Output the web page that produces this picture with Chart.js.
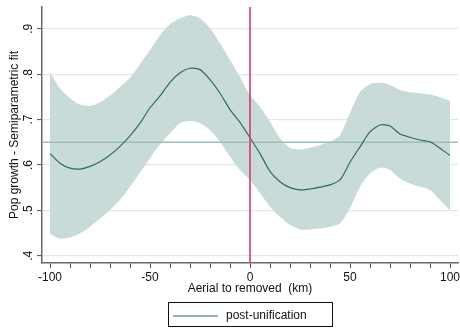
<!DOCTYPE html>
<html>
<head>
<meta charset="utf-8">
<script src="https://cdn.jsdelivr.net/npm/chart.js@4.4.0/dist/chart.umd.min.js"></script>
<style>
  body { margin: 0; background: #fff; }
  #wrap { width: 460px; height: 329px; }
</style>
</head>
<body>
<div id="wrap"><canvas id="grafico" width="460" height="329"></canvas></div>
<script>
// distance to the removed border (km)
const km = [-100, -95, -90, -85, -80, -75, -70, -65, -60, -55, -50, -45, -40, -35, -30, -25, -20, -15, -10, -5,
  0, 5, 10, 15, 20, 25, 30, 35, 40, 45, 50, 55, 60, 65, 70, 75, 80, 85, 90, 95, 100];
const fit = [0.625, 0.604, 0.593, 0.591, 0.597, 0.607, 0.622, 0.641, 0.664, 0.692, 0.726, 0.752, 0.782, 0.803, 0.813, 0.810, 0.788, 0.758, 0.722, 0.694,
  0.660, 0.625, 0.586, 0.563, 0.550, 0.545, 0.547, 0.551, 0.556, 0.567, 0.606, 0.640, 0.673, 0.688, 0.686, 0.668, 0.661, 0.655, 0.651, 0.637, 0.621];
const upper = [0.805, 0.769, 0.747, 0.733, 0.730, 0.738, 0.753, 0.772, 0.792, 0.822, 0.853, 0.886, 0.910, 0.923, 0.930, 0.923, 0.901, 0.868, 0.831, 0.794,
  0.754, 0.728, 0.695, 0.659, 0.638, 0.634, 0.638, 0.644, 0.651, 0.666, 0.715, 0.761, 0.778, 0.781, 0.776, 0.765, 0.760, 0.758, 0.755, 0.749, 0.741];
const lower = [0.448, 0.438, 0.440, 0.449, 0.464, 0.482, 0.501, 0.523, 0.552, 0.583, 0.615, 0.645, 0.670, 0.692, 0.697, 0.692, 0.677, 0.651, 0.618, 0.589,
  0.567, 0.538, 0.508, 0.486, 0.468, 0.458, 0.458, 0.460, 0.464, 0.471, 0.505, 0.552, 0.581, 0.594, 0.589, 0.570, 0.559, 0.552, 0.545, 0.523, 0.500];

const cutoff = 0;
const refLevel = 0.65;
const xTicks = [-100, -90, -80, -70, -60, -50, -40, -30, -20, -10, 0, 10, 20, 30, 40, 50, 60, 70, 80, 90, 100];
const yTicks = [0.4, 0.5, 0.6, 0.7, 0.8, 0.9];
const xRange = [-104, 104];
const yRange = [0.384, 0.948];
const legendLabel = 'post-unification';

const fuente = 'Liberation Sans, Arial, sans-serif';
const colLinea = '#2e6b63';
const colBanda = 'rgb(201,219,216)';

const toPoints = vals => vals.map((v, i) => ({x: km[i], y: v}));

// stata style legend box under the axis
const legendBox = {
  id: 'legendBox',
  afterDraw(chart) {
    const ctx = chart.ctx;
    ctx.save();
    ctx.strokeStyle = '#111';
    ctx.lineWidth = 1;
    ctx.strokeRect(168.5, 302.5, 164, 24);
    ctx.strokeStyle = colLinea;
    ctx.lineWidth = 1.2;
    ctx.beginPath();
    ctx.moveTo(173, 316);
    ctx.lineTo(218, 316);
    ctx.stroke();
    ctx.fillStyle = '#111';
    ctx.font = '12px ' + fuente;
    ctx.textBaseline = 'middle';
    ctx.fillText(legendLabel, 226, 316);
    ctx.restore();
  }
};

const data = {
  datasets: [
    {
      label: 'cutoff',
      data: [{x: cutoff, y: yRange[0]}, {x: cutoff, y: yRange[1]}],
      borderColor: 'rgb(214,58,104)',
      borderWidth: 1.6,
      pointRadius: 0,
      fill: false,
      order: 0
    },
    {
      label: legendLabel,
      data: toPoints(fit),
      borderColor: colLinea,
      borderWidth: 1.2,
      pointRadius: 0,
      tension: 0.25,
      fill: false,
      order: 1
    },
    {
      label: 'ref',
      data: [{x: xRange[0], y: refLevel}, {x: xRange[1], y: refLevel}],
      borderColor: 'rgb(158,190,184)',
      borderWidth: 1.5,
      pointRadius: 0,
      fill: false,
      order: 2
    },
    {
      label: 'upper',
      data: toPoints(upper),
      borderWidth: 0,
      borderColor: 'rgba(0,0,0,0)',
      backgroundColor: colBanda,
      pointRadius: 0,
      tension: 0.25,
      fill: '+1',
      order: 3
    },
    {
      label: 'lower',
      data: toPoints(lower),
      borderWidth: 0,
      borderColor: 'rgba(0,0,0,0)',
      pointRadius: 0,
      tension: 0.25,
      fill: false,
      order: 4
    }
  ]
};

const config = {
  type: 'line',
  data,
  options: {
    responsive: false,
    animation: false,
    devicePixelRatio: 1,
    layout: { padding: { top: 7, right: 2, left: 0, bottom: 0 } },
    plugins: {
      legend: { display: false },
      tooltip: { enabled: false },
      filler: { drawTime: 'beforeDatasetsDraw' }
    },
    scales: {
      x: {
        type: 'linear',
        min: xRange[0],
        max: xRange[1],
        afterBuildTicks: s => { s.ticks = xTicks.map(v => ({value: v})); },
        afterFit: s => { s.height = 66; s.paddingLeft = 0; s.paddingRight = 0; },
        ticks: {
          autoSkip: false,
          maxRotation: 0,
          minRotation: 0,
          padding: 2,
          color: '#111',
          font: { family: fuente, size: 12 },
          callback: v => v % 50 === 0 ? String(v) : ''
        },
        grid: { display: true, drawOnChartArea: false, drawTicks: true, tickLength: 5, tickColor: '#555', tickWidth: 1 },
        border: { display: true, color: '#666', width: 1.5 },
        title: {
          display: true,
          text: 'Aerial to removed  (km)',
          color: '#111',
          font: { family: fuente, size: 12 },
          padding: { top: 2, bottom: 33 }
        }
      },
      y: {
        type: 'linear',
        min: yRange[0],
        max: yRange[1],
        z: 1,
        afterBuildTicks: s => { s.ticks = yTicks.map(v => ({value: v})); },
        afterFit: s => { s.width = 42; s.paddingTop = 0; s.paddingBottom = 0; },
        ticks: {
          minRotation: 90,
          maxRotation: 90,
          crossAlign: 'center',
          padding: 3,
          color: '#111',
          font: { family: fuente, size: 12 },
          callback: v => v.toFixed(1).replace(/^0/, '')
        },
        grid: { color: 'rgb(224,235,232)', lineWidth: 1.2, drawTicks: true, tickLength: 5, tickColor: '#555', tickWidth: 1 },
        border: { display: true, color: '#666', width: 1.5 },
        title: {
          display: true,
          text: 'Pop growth - Semiparametric fit',
          color: '#111',
          font: { family: fuente, size: 12 },
          padding: { top: 7, bottom: 0 }
        }
      }
    }
  },
  plugins: [legendBox]
};

document.addEventListener('DOMContentLoaded', () => {
  let grafico = new Chart(document.querySelector('#grafico'), config);
});
</script>
</body>
</html>
